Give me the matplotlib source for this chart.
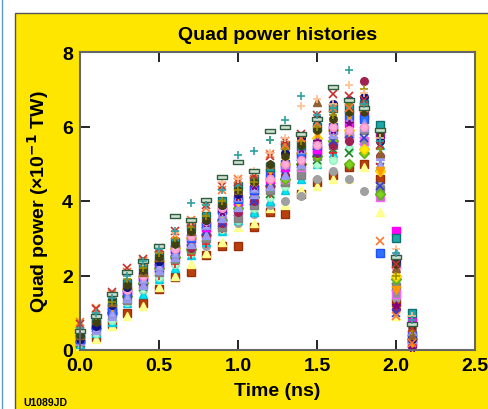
import numpy as np
import matplotlib
matplotlib.use('Agg')
import matplotlib.pyplot as plt
from matplotlib.path import Path
from matplotlib.patches import Rectangle
from matplotlib.lines import Line2D

plt.rcParams['font.family'] = ['Liberation Sans', 'DejaVu Sans']
plt.rcParams['font.weight'] = 'bold'

# time samples (ns)
times = [0.0, 0.1, 0.2, 0.3, 0.4, 0.5, 0.6, 0.7, 0.8, 0.9, 1.0,
         1.1, 1.2, 1.3, 1.4, 1.5, 1.6, 1.7, 1.8, 1.9, 2.0, 2.1]

# quad power histories (x1e-1 TW), one row per quad
q_sq_brown = [0.15, 0.35, 0.7, 1.0, 1.25, 1.64, 1.95, 2.09, 2.55, 2.8, 2.8, 3.3, 3.7, 3.65, 4.2, 4.5, 4.7, 4.9, 5.0, 4.6, 1.3, 0.2]
q_tri_lyel = [0.1, 0.3, 0.64, 0.91, 1.18, 1.7, 2.0, 2.3, 2.6, 2.9, 3.3, 3.4, 3.8, 3.9, 4.3, 4.4, 4.6, 4.6, 4.9, 3.7, 0.9, 0.1]
q_circ_grey = [0.2, 0.5, 0.85, 1.3, 1.6, 1.9, 2.3, 2.6, 2.8, 3.2, 3.4, 3.65, 3.9, 4.0, 4.13, 4.6, 4.8, 4.59, 4.27, 4.4, 1.4, 0.1]
q_sq_cyan = [0.15, 0.45, 0.75, 1.25, 1.5, 1.9, 2.2, 2.55, 2.9, 3.2, 3.5, 3.7, 4.0, 4.3, 4.6, 5.0, 5.3, 5.5, 5.5, 5.5, 2.6, 0.2]
q_circ_mint = [0.2, 0.45, 0.8, 1.3, 1.65, 1.95, 2.3, 2.6, 2.95, 3.25, 3.5, 3.8, 4.1, 4.4, 4.7, 5.0, 5.1, 5.4, 5.5, 5.6, 1.8, 0.3]
q_x_green = [0.2, 0.5, 0.9, 1.35, 1.7, 2.1, 2.45, 2.75, 3.0, 3.35, 3.7, 4.0, 4.2, 4.5, 4.9, 5.1, 5.4, 5.3, 5.6, 4.9, 1.7, 0.15]
q_plus_red = [0.3, 0.55, 0.95, 1.4, 1.75, 2.0, 2.3, 2.55, 2.85, 3.25, 3.6, 3.9, 4.2, 4.5, 4.8, 5.2, 5.3, 5.8, 5.5, 5.0, 1.5, 0.3]
q_sq_grey = [0.3, 0.6, 1.0, 1.35, 1.75, 2.1, 2.45, 2.7, 3.0, 3.3, 3.55, 3.9, 4.3, 4.5, 4.7, 5.2, 5.5, 5.8, 5.9, 4.3, 1.7, 0.3]
q_sq_grey2 = [0.35, 0.7, 1.05, 1.5, 1.85, 2.2, 2.55, 2.8, 3.15, 3.45, 3.75, 4.05, 4.45, 4.6, 4.9, 5.3, 5.6, 5.7, 5.6, 4.1, 1.5, 0.2]
q_circ_lime = [0.25, 0.6, 1.0, 1.45, 1.8, 2.2, 2.5, 2.7, 3.1, 3.5, 3.8, 4.1, 4.4, 4.6, 5.0, 5.2, 5.6, 5.0, 5.3, 4.2, 1.9, 0.3]
q_sq_maroon = [0.25, 0.55, 0.95, 1.4, 1.8, 2.15, 2.5, 2.75, 3.1, 3.4, 3.7, 4.0, 4.4, 4.7, 5.0, 5.3, 5.5, 5.6, 7.22, 5.2, 1.1, 0.1]
q_x_blue = [0.3, 0.6, 1.1, 1.5, 1.85, 2.2, 2.6, 2.9, 3.2, 3.4, 3.8, 4.0, 4.5, 4.7, 5.0, 5.3, 5.6, 5.8, 5.7, 4.4, 1.0, 0.1]
q_tri_lav = [0.25, 0.55, 0.9, 1.4, 1.75, 2.15, 2.5, 2.85, 3.1, 3.55, 3.85, 4.2, 4.4, 4.7, 5.0, 5.5, 5.8, 5.9, 6.0, 5.2, 2.1, 0.3]
q_sq_magenta = [0.3, 0.7, 1.1, 1.6, 2.0, 2.3, 2.7, 3.0, 3.3, 3.8, 4.0, 4.3, 4.6, 4.9, 5.3, 5.4, 5.9, 6.1, 6.3, 5.8, 3.2, 0.8]
q_diam_yel = [0.3, 0.7, 1.2, 1.65, 2.0, 2.4, 2.75, 3.0, 3.4, 3.7, 4.0, 4.4, 4.6, 5.0, 5.3, 5.7, 5.9, 5.9, 5.4, 4.8, 2.0, 0.4]
q_sq_blue = [0.3, 0.65, 1.05, 1.55, 1.95, 2.35, 2.7, 3.0, 3.35, 3.75, 4.05, 4.3, 4.75, 5.0, 5.2, 5.5, 6.0, 6.3, 6.2, 2.6, 2.3, 0.4]
q_tri_lav2 = [0.35, 0.6, 1.0, 1.45, 1.9, 2.25, 2.6, 3.05, 3.35, 3.7, 4.1, 4.35, 4.7, 5.0, 5.4, 5.7, 5.9, 6.2, 6.1, 5.0, 2.6, 0.5]
q_star_purple = [0.4, 0.8, 1.2, 1.7, 2.0, 2.35, 2.7, 3.1, 3.4, 3.7, 4.1, 4.4, 4.8, 5.0, 5.4, 5.6, 5.9, 6.1, 6.0, 5.7, 1.2, 0.05]
q_tri_orange = [0.35, 0.75, 1.15, 1.6, 2.0, 2.4, 2.8, 3.15, 3.5, 3.8, 4.15, 4.55, 4.8, 5.1, 5.5, 5.8, 6.1, 6.3, 6.4, 4.8, 1.6, 0.2]
q_circ_pink = [0.5, 0.75, 1.2, 1.6, 2.0, 2.45, 2.7, 3.05, 3.45, 3.8, 4.2, 4.5, 4.6, 5.0, 5.1, 5.5, 6.0, 5.9, 6.0, 5.9, 2.2, 0.6]
q_circ_navy = [0.3, 0.65, 1.2, 1.7, 2.1, 2.4, 2.9, 3.2, 3.5, 3.9, 4.2, 4.6, 4.9, 5.3, 5.7, 6.2, 6.6, 6.7, 6.8, 5.6, 2.4, 0.3]
q_sq_teal = [0.45, 0.85, 1.3, 1.8, 2.2, 2.55, 2.9, 3.3, 3.6, 4.0, 4.4, 4.6, 4.9, 5.5, 5.5, 6.0, 6.5, 6.5, 6.6, 6.05, 3.0, 1.0]
q_tri_brown = [0.4, 0.8, 1.3, 1.8, 2.1, 2.5, 2.9, 3.2, 3.6, 4.0, 4.3, 4.6, 5.0, 5.5, 5.6, 6.66, 6.3, 6.5, 6.5, 5.3, 2.2, 0.4]
q_circ_olive = [0.4, 0.75, 1.35, 1.75, 2.15, 2.5, 2.85, 3.2, 3.5, 3.9, 4.3, 4.5, 5.0, 5.2, 5.5, 5.9, 6.2, 6.4, 6.4, 5.8, 2.3, 0.6]
q_plus_olive = [0.5, 0.9, 1.3, 1.9, 2.2, 2.6, 3.0, 3.3, 3.6, 4.0, 4.3, 4.5, 5.64, 5.4, 5.6, 6.0, 6.3, 6.6, 7.0, 5.4, 2.0, 0.5]
q_x_orange = [0.75, 1.13, 1.5, 2.1, 2.4, 2.7, 3.1, 3.5, 3.8, 4.3, 4.6, 4.75, 5.25, 5.5, 5.7, 6.1, 6.5, 6.5, 6.5, 2.93, 0.9, 0.2]
q_x_red = [0.7, 1.1, 1.55, 2.2, 2.45, 2.75, 3.2, 3.4, 3.9, 4.4, 4.5, 4.7, 5.2, 5.6, 5.8, 6.3, 6.87, 6.82, 6.7, 5.5, 2.3, 0.6]
q_plus_peach = [0.55, 1.0, 1.45, 2.05, 2.35, 2.75, 3.15, 3.45, 3.9, 4.5, 4.6, 4.8, 5.3, 5.7, 6.55, 6.74, 6.6, 7.11, 6.9, 5.7, 2.7, 0.9]
q_rect_green = [0.5, 0.9, 1.5, 2.1, 2.4, 2.8, 3.6, 3.5, 4.03, 4.64, 5.05, 4.8, 5.87, 5.98, 5.8, 6.2, 7.06, 6.7, 6.5, 5.9, 2.5, 0.7]
q_plus_teal = [0.6, 1.0, 1.4, 2.0, 2.4, 2.7, 3.2, 3.95, 3.9, 4.3, 5.23, 5.35, 5.64, 6.17, 6.82, 6.3, 6.5, 7.52, 6.6, 5.6, 2.6, 0.8]

rect = Path([(-1.0, -0.45), (1.0, -0.45), (1.0, 0.45), (-1.0, 0.45), (-1.0, -0.45)],
            [Path.MOVETO, Path.LINETO, Path.LINETO, Path.LINETO, Path.CLOSEPOLY])

# (values, marker, face, edge)
quads = [
    (q_sq_brown, 's', '#b8400c', '#9a3008'),
    (q_tri_lyel, '^', '#ffff99', '#ffff80'),
    (q_circ_grey, 'o', '#a0a0a0', '#a0a0a0'),
    (q_sq_cyan, '^', '#00e8e8', '#00c8e8'),
    (q_circ_mint, 'o', '#b0ffd0', '#90f0c0'),
    (q_x_green, 'x', '#208020', '#208020'),
    (q_plus_red, '+', '#ee2020', '#ee2020'),
    (q_sq_grey, 's', '#888888', '#808080'),
    (q_sq_grey2, 's', '#909090', '#ff60ff'),
    (q_circ_lime, 'D', '#80d020', '#60b010'),
    (q_sq_maroon, 'o', '#a02050', '#a02050'),
    (q_x_blue, 'x', '#3040d0', '#3040d0'),
    (q_tri_lav, '^', '#9a9af0', '#9a9af0'),
    (q_sq_magenta, 's', '#ff00ff', '#ff00ff'),
    (q_diam_yel, 'D', '#ffee00', '#ffd000'),
    (q_sq_blue, 's', '#3070ff', '#2050ff'),
    (q_tri_lav2, '^', '#a8a8f8', '#9090e0'),
    (q_star_purple, '*', '#800080', '#800080'),
    (q_tri_orange, 'v', '#ff9900', '#ff9900'),
    (q_circ_pink, 'o', '#ffb0d8', '#ff90c8'),
    (q_circ_navy, 'o', '#101080', '#101080'),
    (q_sq_teal, 's', '#20a8a8', '#107070'),
    (q_tri_brown, '^', '#906030', '#906030'),
    (q_circ_olive, 'h', '#404010', '#404010'),
    (q_plus_olive, '+', '#a09000', '#a09000'),
    (q_x_orange, 'x', '#ff7830', '#ff7830'),
    (q_x_red, 'x', '#c83030', '#c83030'),
    (q_plus_peach, '+', '#ffc090', '#ffc090'),
    (q_rect_green, rect, '#d0e0d0', '#2e5e40'),
    (q_plus_teal, '+', '#30a0a0', '#30a0a0'),
]

fig = plt.figure(figsize=(4.88, 4.10), dpi=100)
fig.patch.set_facecolor('white')

# yellow panel behind everything
fig.patches.append(Rectangle((15/488, -0.01), 1.0, 1 - 14/410 + 0.01, transform=fig.transFigure,
                             facecolor='#ffe600', edgecolor='#555555', linewidth=1.0, zorder=-10))
fig.lines.append(Line2D([2/488, 2/488], [0, 1], transform=fig.transFigure, color='#5b9bd0',
                        lw=1.0, zorder=-10))

ax = fig.add_axes([80/488, 1 - 351/410, 395/488, 298/410])
ax.set_facecolor('white')

for vals, mk, fc, ec in quads:
    if mk in ('x', '+'):
        ax.plot(times, vals, ls='none', marker=mk, ms=6, mew=1.2, color=fc, clip_on=False)
    else:
        ms = 7 if mk is rect else 5.5
        ax.plot(times, vals, ls='none', marker=mk, ms=ms, mfc=fc, mec=ec, mew=1.0, clip_on=False)

ax.set_xlim(0, 2.5)
ax.set_ylim(0, 8)
ax.set_xticks([0.0, 0.5, 1.0, 1.5, 2.0, 2.5])
ax.set_xticklabels(['0.0', '0.5', '1.0', '1.5', '2.0', '2.5'])
ax.set_yticks([0, 2, 4, 6, 8])
ax.tick_params(direction='in', length=7, width=1.2, top=True, right=True,
               labelsize=14, pad=5)
for lab in ax.get_xticklabels() + ax.get_yticklabels():
    lab.set_fontweight('bold')
for s in ax.spines.values():
    s.set_color('#666666')
    s.set_linewidth(1.5)

ax.set_xlabel('Time (ns)', fontsize=14, fontweight='bold', labelpad=6)
ax.set_ylabel('Quad power (\u00d710$^{\u22121}$ TW)', fontsize=14, fontweight='bold', labelpad=8)
ax.set_title('Quad power histories', fontsize=14, fontweight='bold', pad=9)

fig.text(23/488, 1 - 403/410, 'U1089JD', fontsize=7.5, fontweight='bold', va='center', ha='left')

fig.savefig('out.png', dpi=100)
